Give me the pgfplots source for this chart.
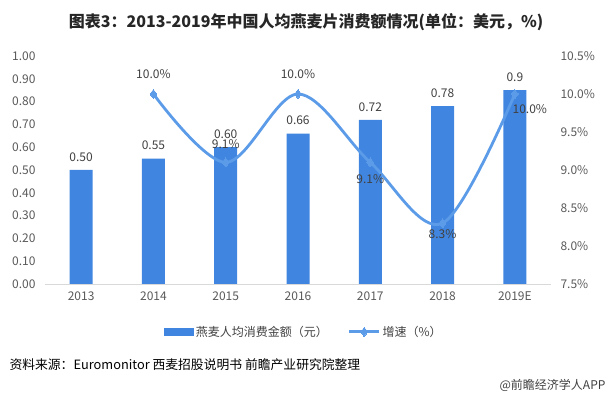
\documentclass[border=0pt]{standalone}
\usepackage{pgfplots}
\pgfplotsset{compat=1.18}
\usepackage{fontspec}
\setmainfont{Noto Sans CJK SC}
\definecolor{barblue}{RGB}{64,134,224}
\definecolor{lineblue}{RGB}{91,155,232}
\definecolor{txtgray}{RGB}{64,64,64}
\definecolor{tickgray}{RGB}{89,89,89}
\definecolor{axgray}{RGB}{217,217,217}
\definecolor{titlec}{RGB}{38,38,38}

\pgfplotsset{
  linelab/.style 2 args={draw=none, forget plot, point meta=explicit symbolic,
    nodes near coords={\pgfplotspointmeta\%},
    every node near coord/.append style={anchor=center, xshift=#1, yshift=#2, font=\fontsize{12}{14}\selectfont, text=txtgray}},
  mylinelegend/.style={legend image code/.code={\draw[mark repeat=2,mark phase=2,##1] plot coordinates {(0pt,0pt) (15pt,0pt) (30pt,0pt)};}},
  mybarlegend/.style={legend image code/.code={\fill[barblue] (0pt,-3.5pt) rectangle (29pt,3.5pt);}},
}

\begin{document}
\begin{tikzpicture}[x=1pt,y=1pt]
\useasboundingbox (0,0) rectangle (611,398);
\node[font=\fontsize{16}{19}\selectfont\bfseries, text=titlec] at (306,376) {图表3：2013-2019年中国人均燕麦片消费额情况(单位：美元，\%)};

\begin{axis}[
  at={(45pt,114pt)}, anchor=south west,
  scale only axis, width=506pt, height=228pt,
  xmin=-0.5, xmax=6.5, ymin=0, ymax=1,
  axis x line*=bottom, axis y line*=left,
  x axis line style={draw=axgray, line width=0.8pt, -},
  y axis line style={draw=none},
  major tick length=0pt,
  xtick={0,1,2,3,4,5,6},
  xticklabels={2013,2014,2015,2016,2017,2018,2019E},
  ytick={0,0.1,0.2,0.3,0.4,0.5,0.6,0.7,0.8,0.9,1.0},
  yticklabel style={/pgf/number format/fixed, /pgf/number format/fixed zerofill, /pgf/number format/precision=2, /pgf/number format/assume math mode=true, xshift=-6pt},
  ticklabel style={font=\fontsize{12}{14}\selectfont, text=tickgray},
  xticklabel style={yshift=-4pt},
]
\addplot[ybar, bar width=23pt, fill=barblue, draw=none,
  point meta=explicit symbolic,
  nodes near coords,
  every node near coord/.append style={anchor=center, yshift=13pt, font=\fontsize{12}{14}\selectfont, text=txtgray}]
coordinates {(0,0.50) [0.50] (1,0.55) [0.55] (2,0.60) [0.60] (3,0.66) [0.66] (4,0.72) [0.72] (5,0.78) [0.78] (6,0.85) [0.9]};
\end{axis}

\begin{axis}[
  at={(45pt,114pt)}, anchor=south west,
  scale only axis, width=506pt, height=228pt,
  xmin=-0.5, xmax=6.5, ymin=7.5, ymax=10.5,
  axis x line=none, axis y line*=right,
  y axis line style={draw=none},
  major tick length=0pt,
  ytick={7.5,8.0,8.5,9.0,9.5,10.0,10.5},
  yticklabel={\pgfmathprintnumber[fixed, fixed zerofill, precision=1, assume math mode=true]{\tick}\%},
  yticklabel style={font=\fontsize{12}{14}\selectfont, text=tickgray, xshift=6pt},
  legend columns=2,
  legend style={at={(rel axis cs:0.512,-0.21)}, anchor=center, draw=none, fill=none,
    font=\fontsize{12}{14}\selectfont, text=txtgray,
    /tikz/every even column/.append style={column sep=18pt}},
]
\addlegendimage{mybarlegend}
\addlegendentry{燕麦人均消费金额（元）}
\addplot[lineblue, line width=2.8pt, smooth, tension=0.55,
  mark=diamond*, mark size=4.5pt, mark options={solid, fill=lineblue, line width=0pt},
  mylinelegend]
coordinates {(1,10.0) (2,9.1) (3,10.0) (4,9.1) (5,8.3) (6,10.0)};
\addlegendentry{增速（\%）}
\addplot[linelab={0pt}{20pt}] coordinates {(1,10.0) [10.0] (3,10.0) [10.0]};
\addplot[linelab={0pt}{18pt}] coordinates {(2,9.1) [9.1]};
\addplot[linelab={0pt}{-17pt}] coordinates {(4,9.1) [9.1]};
\addplot[linelab={0pt}{-11pt}] coordinates {(5,8.3) [8.3]};
\addplot[linelab={15pt}{-15pt}] coordinates {(6,10.0) [10.0]};
\end{axis}

\node[anchor=west, font=\fontsize{12.8}{15}\selectfont, text=black] at (6,33) {资料来源：Euromonitor 西麦招股说明书 前瞻产业研究院整理};
\node[anchor=east, font=\fontsize{12}{14}\selectfont, text=txtgray] at (609,13) {@前瞻经济学人APP};
\end{tikzpicture}
\end{document}
